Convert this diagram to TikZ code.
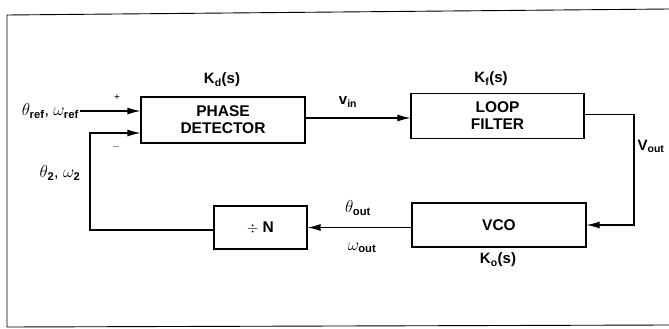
\documentclass[tikz,border=0pt]{standalone}
\usepackage{amsmath}
\usepackage{fontspec}
\setmainfont{Liberation Sans}
\usetikzlibrary{arrows.meta}
\tikzset{
  blk/.style={draw, line width=1.1pt, inner sep=0pt, align=center,
    font=\fontsize{15.5}{17}\selectfont\bfseries},
  arr/.style={line width=1.1pt, -{Latex[length=13pt,width=7pt]}},
  lbl/.style={font=\fontsize{15}{16}\selectfont\bfseries, inner sep=0pt},
  glbl/.style={font=\fontsize{16}{17}\selectfont, inner sep=0pt},
  sgn/.style={font=\fontsize{10}{11}\selectfont, inner sep=0pt},
}
\begin{document}
\begin{tikzpicture}[x=1pt,y=-1pt]
\useasboundingbox (0,0) rectangle (669,329);
% outer frame
\draw[line width=0.9pt] (669,9) -- (7,15) -- (7,327) -- (669,325);
% blocks
\node[blk, minimum width=164pt, minimum height=46pt] (pd) at (223,120) {PHASE\\DETECTOR};
\node[blk, minimum width=173pt, minimum height=45pt] (lf) at (497.5,116) {LOOP\\FILTER};
\node[blk, minimum width=174pt, minimum height=44pt] (vco) at (499,225) {VCO};
\node[blk, minimum width=93pt, minimum height=43pt] (div) at (260.5,227.5) {$\div$ N};
% coordinates
\coordinate (in) at (80,111);
\coordinate (rt) at (634,0);
\coordinate (fb) at (90,0);
\coordinate (pdin1) at ([yshift=9pt]pd.west);
\coordinate (pdin2) at ([yshift=-13pt]pd.west);
\coordinate (pdout) at ([yshift=2pt]pd.east);
\coordinate (lfout) at ([yshift=1.5pt]lf.east);
\coordinate (vcoout) at ([yshift=-2.5pt]vco.west);
\coordinate (divout) at ([yshift=-2.5pt]div.west);
% connectors
\draw[arr] (in) -- (pdin1);
\draw[arr] (pdout) -- (lf.west |- pdout);
\draw[arr] (lfout) -- (lfout -| rt) -- (vco.east -| rt) -- (vco.east);
\draw[arr] (vcoout) -- (div.east |- vcoout);
\draw[arr] (divout) -- (divout -| fb) -- (pdin2 -| fb) -- (pdin2);
% labels
\node[glbl, anchor=east] (inl) at ([xshift=-1pt]in) {$\theta_{\textbf{ref}}$, $\omega_{\textbf{ref}}$};
\node[sgn] (plus) at (117,98) {+};
\node[sgn] (minus) at (116,147) {$-$};
\node[glbl] (fbl) at (60,173) {$\theta_{\textbf{2}}$, $\omega_{\textbf{2}}$};
\node[lbl] (kd) at (222,80) {K$_{\textbf{d}}$(s)};
\node[lbl] (kf) at (491,79) {K$_{\textbf{f}}$(s)};
\node[lbl] (ko) at (498,260) {K$_{\textbf{o}}$(s)};
\node[lbl] (vin) at (348,102) {v$_{\textbf{in}}$};
\node[lbl] (vout) at (651,146) {V$_{\textbf{out}}$};
\node[glbl] (thout) at (358,208) {$\theta_{\textbf{out}}$};
\node[glbl] (omout) at (362,248) {$\omega_{\textbf{out}}$};
\end{tikzpicture}
\end{document}
